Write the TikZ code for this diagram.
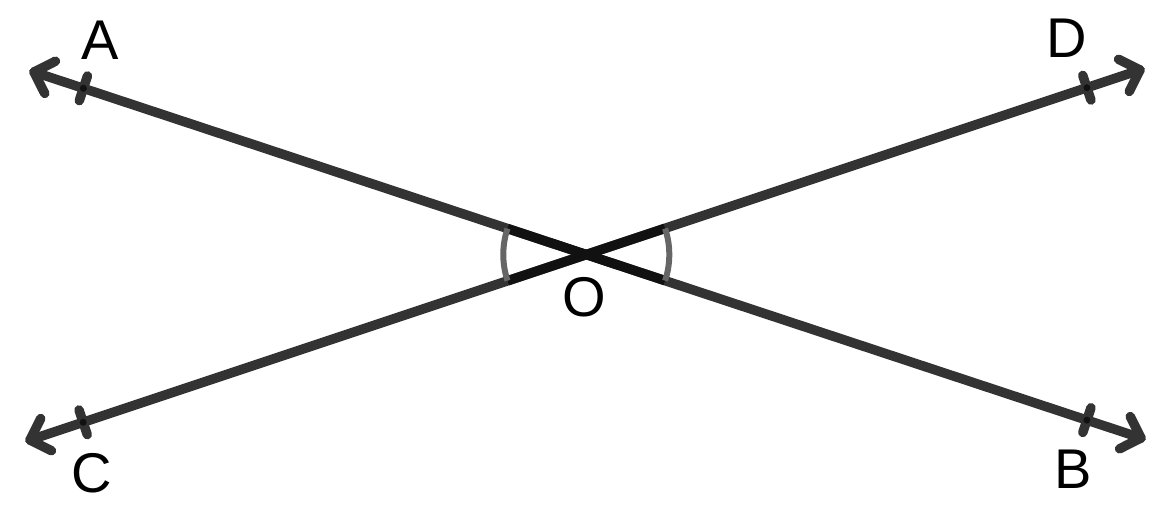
\documentclass[tikz,border=0pt]{standalone}
\usepackage{fontspec}
\setmainfont{Liberation Sans}
\usetikzlibrary{calc}
\definecolor{linegray}{HTML}{333333}
\definecolor{arcgray}{HTML}{666666}
\definecolor{darkline}{HTML}{111111}
\begin{document}
\begin{tikzpicture}[x=1pt,y=-1pt,
  ray/.style={draw=linegray,line width=9.5pt,line cap=round,line join=round},
  inner/.style={draw=darkline,line width=9.5pt},
  anglemark/.style={draw=arcgray,line width=6pt},
  lbl/.style={font=\fontsize{56}{60}\selectfont,text=black,inner sep=0pt}]
\useasboundingbox (0,0) rectangle (1174,521);
% end points
\coordinate (A) at (34,72);
\coordinate (B) at (1141,438);
\coordinate (C) at (30,440);
\coordinate (D) at (1140,70);
\coordinate (O) at (intersection of A--B and C--D);
% rays
\draw[ray] (A) -- (B);
\draw[ray] (C) -- (D);
% arrow heads
\foreach \p/\q in {A/B,B/A,C/D,D/C}{
  \draw[ray] ($(\p)!24pt!45:(\q)$) -- (\p) -- ($(\p)!24pt!-45:(\q)$);
}
% ticks
\foreach \p/\q/\d in {A/B/52,B/A/57,C/D/56,D/C/56}{
  \coordinate (t\p) at ($(\p)!\d pt!(\q)$);
  \draw[ray] ($(t\p)!13pt!90:(\q)$) -- ($(t\p)!13pt!-90:(\q)$);
  \fill[darkline] (t\p) circle (3.5pt);
}
% darker inner segments
\coordinate (a1) at ($(O)!83pt!(A)$);
\coordinate (b1) at ($(O)!83pt!(B)$);
\coordinate (c1) at ($(O)!83pt!(C)$);
\coordinate (d1) at ($(O)!83pt!(D)$);
\draw[inner] (a1) -- (b1);
\draw[inner] (c1) -- (d1);
% angle arcs
\draw[anglemark] (a1) arc[start angle=198.3,end angle=161.7,radius=83];
\draw[anglemark] (b1) arc[start angle=18.3,end angle=-18.3,radius=83];
% labels
\node[lbl] (lA) at (100,40) {A};
\node[lbl] (lB) at (1073,469) {B};
\node[lbl] (lC) at (92,473) {C};
\node[lbl] (lD) at (1067,38) {D};
\node[lbl] (lO) at (584,297) {O};
\end{tikzpicture}
\end{document}
